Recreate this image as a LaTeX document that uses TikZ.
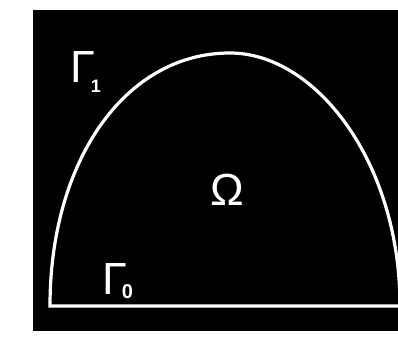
\documentclass[tikz,border=0pt]{standalone}
\usepackage{fontspec}
\setmainfont{Liberation Sans}
\begin{document}
\begin{tikzpicture}[x=1pt,y=-1pt,
  bd/.style={draw=white,line width=3.2pt},
  lbl/.style={text=white,inner sep=0pt,outer sep=0pt}]
\useasboundingbox (0,0) rectangle (398,339);
\fill[white] (0,0) rectangle (398,339);
\fill[black] (33,10) rectangle (398,331);
\coordinate (c0) at (50,306);
\coordinate (top) at (230,53);
\coordinate (c1) at (400,306);
\coordinate (rb) at (398,306);
\begin{scope}
\clip (33,10) rectangle (398,331);
\draw[bd,line join=miter] (rb) -- (c0) .. controls (50,161) and (125,53) .. (top)
  .. controls (315,53) and (400,161) .. (c1);
\end{scope}
\node[lbl,anchor=base west] (g1) at (70,83) {\fontsize{45}{45}\selectfont Γ\kern-4pt\raisebox{-10pt}{\fontsize{18}{18}\selectfont\bfseries 1}};
\node[lbl,anchor=base west] (g0) at (102,294) {\fontsize{45}{45}\selectfont Γ\kern-5pt\raisebox{-4pt}{\fontsize{20}{20}\selectfont\bfseries 0}};
\node[lbl,anchor=base] (om) at (227,205) {\fontsize{45}{45}\selectfont Ω};
\end{tikzpicture}
\end{document}
